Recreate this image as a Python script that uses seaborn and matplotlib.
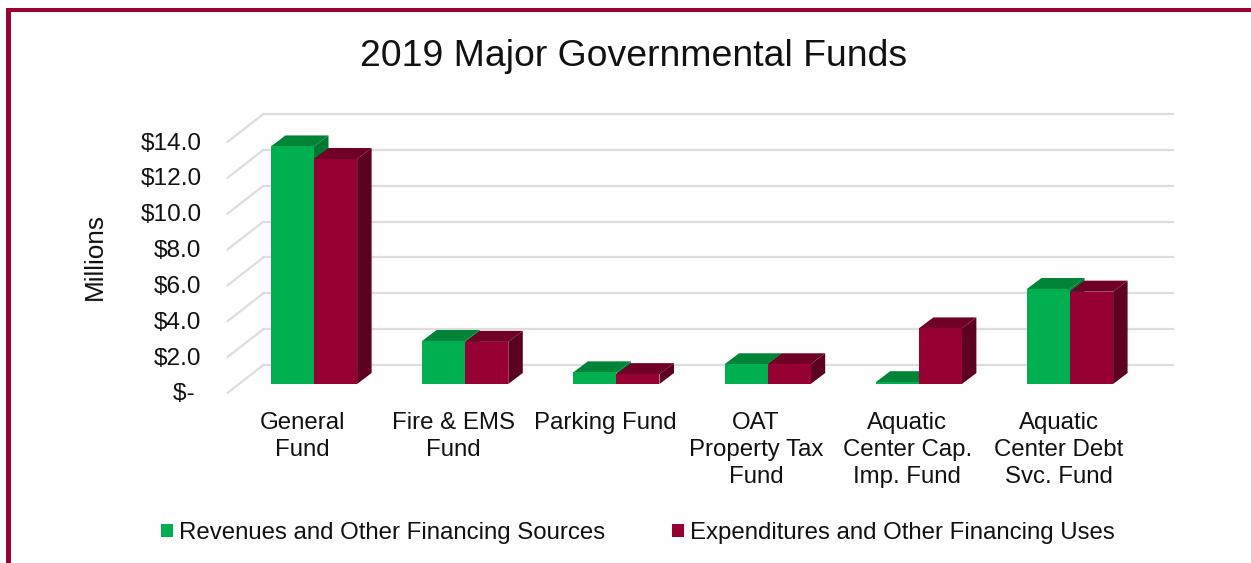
import pandas as pd
import matplotlib
matplotlib.use("Agg")
import matplotlib.pyplot as plt
import seaborn as sns
from matplotlib.patches import Polygon, Rectangle
from matplotlib.transforms import ScaledTranslation

categories = ["General\nFund", "Fire & EMS\nFund", "Parking Fund", "OAT\nProperty Tax\nFund",
              "Aquatic\nCenter Cap.\nImp. Fund", "Aquatic\nCenter Debt\nSvc. Fund"]
revenues = [13.25, 2.4, 0.65, 1.1, 0.1, 5.3]
expenditures = [12.55, 2.35, 0.55, 1.1, 3.1, 5.15]
series_names = ["Revenues and Other Financing Sources", "Expenditures and Other Financing Uses"]
y_ticks = [0, 2, 4, 6, 8, 10, 12, 14]
y_labels = ["$- ", "$2.0", "$4.0", "$6.0", "$8.0", "$10.0", "$12.0", "$14.0"]

GREEN = "#00B050"
GREEN_TOP = "#008437"
GREEN_SIDE = "#007A33"
RED = "#960032"
RED_TOP = "#700025"
RED_SIDE = "#5E0020"
BORDER = "#9B0034"
GRID = "#DDDDDD"

W, H = 1251, 563
plt.rcdefaults()
sns.set_theme(style="white")
plt.rcParams["font.family"] = ["Liberation Sans", "DejaVu Sans"]
plt.rcParams["text.color"] = "#111111"

df = pd.DataFrame({
    "fund": categories * 2,
    "value": revenues + expenditures,
    "series": [series_names[0]] * 6 + [series_names[1]] * 6,
})

fig = plt.figure(figsize=(W / 100, H / 100), dpi=100, facecolor="#FEFEFE")
# front plane of the bars, in pixels
left, right, zero, top = 238.4, 1145.6, 384, 133
ax = fig.add_axes([left / W, (H - zero) / H, (right - left) / W, (zero - top) / H])
ax.patch.set_visible(False)

sns.barplot(data=df, x="fund", y="value", hue="series", palette=[GREEN, RED],
            width=0.57, gap=0, legend=False, saturation=1, ax=ax)
ax.set_xlim(-0.5, 5.5)
ax.set_ylim(0, 14)

px_x = 6 / (right - left)   # data per pixel
px_y = 14 / (zero - top)

# walls: gridlines on the back wall, diagonals on the side wall
for v in y_ticks:
    wall_l = -0.5 + 25 * px_x
    wall_r = 5.5 + 27.5 * px_x
    ax.plot([wall_l, wall_r], [v + 19 * px_y] * 2, color=GRID, lw=1.6, zorder=1, clip_on=False)
    ax.plot([-0.5 - 11 * px_x, wall_l], [v - 9 * px_y, v + 19 * px_y], color=GRID, lw=1.6,
            zorder=1, clip_on=False)

# fake 3d faces worked out from the bars themselves
dx, dy = 14.5 * px_x, 11 * px_y
faces = [(GREEN_TOP, GREEN_SIDE), (RED_TOP, RED_SIDE)]
for i, cont in enumerate(ax.containers):
    top_c, side_c = faces[i]
    for bar in cont:
        x0, w, h = bar.get_x(), bar.get_width(), bar.get_height()
        x1 = x0 + w
        bar.set_zorder(3 + 2 * i)
        bar.set_linewidth(0)
        ax.add_patch(Polygon([(x0, h), (x1, h), (x1 + dx, h + dy), (x0 + dx, h + dy)],
                             fc=top_c, ec="none", zorder=2 + 2 * i, clip_on=False))
        ax.add_patch(Polygon([(x1, 0), (x1 + dx, dy), (x1 + dx, h + dy), (x1, h)],
                             fc=side_c, ec="none", zorder=2 + 2 * i, clip_on=False))

sns.despine(ax=ax, left=True, bottom=True)
ax.set_yticks(y_ticks)
ax.set_yticklabels(y_labels)
ax.tick_params(axis="y", length=0, pad=26.5, labelsize=17.6, labelcolor="#111111")
ax.tick_params(axis="x", length=0, pad=20.5, labelsize=17.3, labelcolor="#111111")
for lab in ax.get_yticklabels():
    lab.set_transform(lab.get_transform() + ScaledTranslation(0, -0.08, fig.dpi_scale_trans))
for lab in ax.get_xticklabels():
    lab.set_transform(lab.get_transform() + ScaledTranslation(-0.115, 0, fig.dpi_scale_trans))
    lab.set_linespacing(1.27)

ax.set_xlabel("")
ax.set_ylabel("Millions", fontsize=18.8, color="#111111")
ax.yaxis.set_label_coords((107 - left) / (right - left), (zero - 256) / (zero - top))

fig.text(633.5 / W, 1 - 56 / H, "2019 Major Governmental Funds", fontsize=26.9, ha="center", va="center")

handles = [ax.containers[0][0], ax.containers[1][0]]
fig.legend(handles, series_names, loc="center", bbox_to_anchor=(638 / W, 1 - 533 / H), ncol=2,
           frameon=False, fontsize=17.3, handlelength=0.5, handleheight=0.5,
           handletextpad=0.25, columnspacing=2.8)

# slide border: only top and left show in the crop
fig.add_artist(Rectangle((6 / W, 0), 5 / W, 1 - 8 / H, transform=fig.transFigure, fc=BORDER, ec="none"))
fig.add_artist(Rectangle((6 / W, 1 - 12 / H), 1 - 6 / W, 4 / H, transform=fig.transFigure, fc=BORDER, ec="none"))

fig.savefig("out.png", dpi=100, facecolor=fig.get_facecolor())
